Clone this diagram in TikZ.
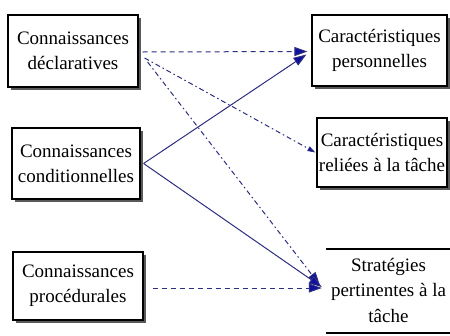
\documentclass[tikz,border=0pt]{standalone}
\usepackage{fontspec}
\setmainfont{Liberation Serif}
\newfontfamily\diagfont{Liberation Serif}
\usetikzlibrary{shadows,arrows.meta}
\definecolor{navy}{HTML}{2E2E80}
\definecolor{tipblue}{HTML}{1010A0}
\begin{document}
\begin{tikzpicture}[x=1pt,y=-1pt,
  box/.style={draw=black, line width=1.2pt, fill=white, rectangle, align=center,
    inner sep=0pt, font=\diagfont\fontsize{19}{25}\selectfont,
    drop shadow={shadow xshift=2.5pt, shadow yshift=-2.5pt, fill=black!65, opacity=1}},
  plain/.style={rectangle, align=center, inner sep=0pt, font=\diagfont\fontsize{19}{25.5}\selectfont},
  arr/.style={-{Triangle[length=13pt,width=9pt,fill=tipblue]}, draw=navy, line width=1pt},
  smallarr/.style={-{Triangle[length=8pt,width=5pt,fill=tipblue]}, draw=navy, line width=1pt},
  dsh/.style={arr, dash pattern=on 5pt off 4pt},
  ddot/.style={arr, dash pattern=on 5pt off 3pt on 1.5pt off 3pt},
  sddot/.style={smallarr, dash pattern=on 5pt off 3pt on 1.5pt off 3pt},
  rule/.style={draw=black, line width=1.5pt}
]
\useasboundingbox (0,0) rectangle (450,335);
\fill[white] (0,0) rectangle (450,335);

\node[box, minimum width=130pt, minimum height=72pt] (L1) at (73,51) {Connaissances\\déclaratives};
\node[box, minimum width=128pt, minimum height=71pt] (L2) at (76,163.5) {Connaissances\\conditionnelles};
\node[box, minimum width=130pt, minimum height=68pt] (L3) at (78,286) {Connaissances\\procédurales};

\node[box, minimum width=135pt, minimum height=71pt] (R1) at (379.5,50.5) {Caractéristiques\\personnelles};
\node[box, minimum width=130pt, minimum height=69pt] (R2) at (382,152.5) {Caractéristiques\\reliées à la tâche};
\node[plain, minimum width=125pt, minimum height=86pt] (R3) at (388.5,290) {Stratégies\\pertinentes à la\\tâche};
\draw[rule] ([yshift=-2pt]R3.north west) -- ([yshift=-2pt,xshift=5pt]R3.north east);
\draw[rule] (R3.south west) -- ([xshift=5pt]R3.south east);

% arrows
\draw[dsh] ([xshift=4pt,yshift=-1pt]L1.east) -- ([xshift=-4pt,yshift=-1pt]R1.west);
\draw[arr] ([xshift=3pt]L2.east) -- ([xshift=-5pt,yshift=-4pt]R1.west);
\draw[sddot] ([xshift=6pt,yshift=-7pt]L1.east) -- ([xshift=-1pt]R2.west);
\draw[ddot] ([xshift=9pt,yshift=-11pt]L1.east) -- ([xshift=-6pt,yshift=5pt]R3.west);
\draw[arr] ([xshift=3pt]L2.east) -- ([xshift=-4pt,yshift=3pt]R3.west);
\draw[dsh] ([xshift=9pt,yshift=-2pt]L3.east) -- ([xshift=-4pt,yshift=2pt]R3.west);
\end{tikzpicture}
\end{document}
